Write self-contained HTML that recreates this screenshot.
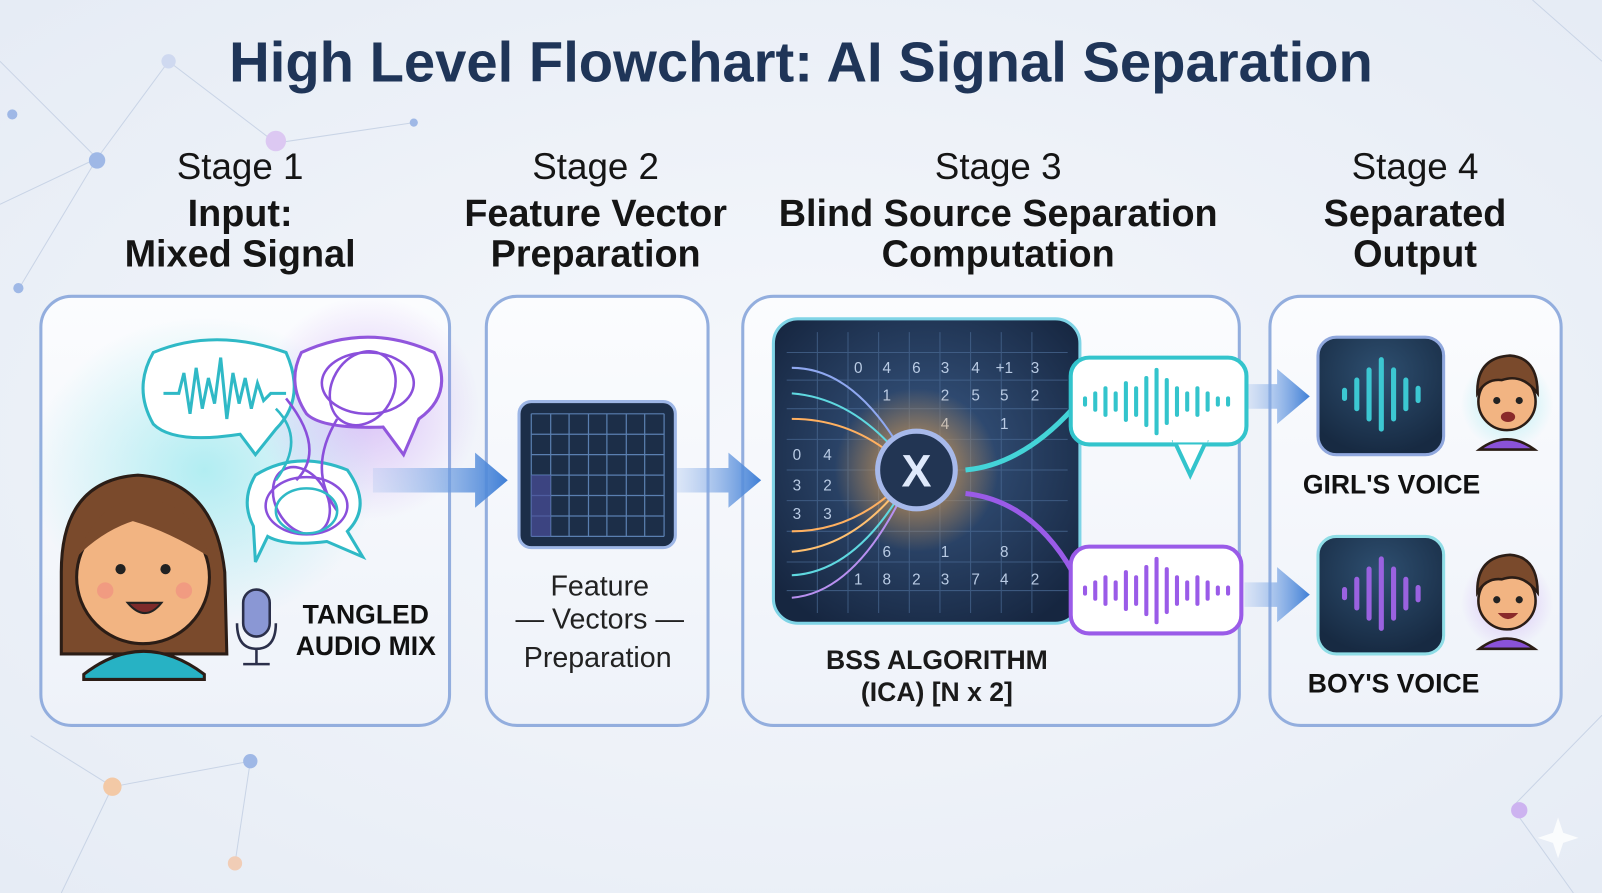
<!DOCTYPE html>
<html><head><meta charset="utf-8"><style>
html,body{margin:0;padding:0;width:1602px;height:893px;overflow:hidden;background:#eef2f8}
svg{display:block}
text{font-family:"Liberation Sans",sans-serif}
</style></head><body>
<svg width="1602" height="893" viewBox="0 0 1568 874" preserveAspectRatio="none">
<defs>
<radialGradient id="bg" cx="50%" cy="50%" r="70%"><stop offset="0" stop-color="#f6f8fc"/><stop offset="1" stop-color="#e6ecf5"/></radialGradient>
<linearGradient id="box" x1="0" y1="0" x2="0" y2="1"><stop offset="0" stop-color="#fbfcfe"/><stop offset="1" stop-color="#eef2f9"/></linearGradient>
<linearGradient id="arr" x1="0" y1="0" x2="1" y2="0"><stop offset="0" stop-color="#a9c3ee" stop-opacity="0.3"/><stop offset="1" stop-color="#3f7fd6"/></linearGradient>
<radialGradient id="dark" cx="50%" cy="45%" r="65%"><stop offset="0" stop-color="#3a5a86"/><stop offset="1" stop-color="#162640"/></radialGradient>
<radialGradient id="tile" cx="50%" cy="30%" r="70%"><stop offset="0" stop-color="#2e4f70"/><stop offset="1" stop-color="#172a42"/></radialGradient>
<radialGradient id="glow" cx="50%" cy="50%" r="50%"><stop offset="0" stop-color="#ffd58a"/><stop offset="0.3" stop-color="#f4a340" stop-opacity="0.6"/><stop offset="1" stop-color="#f4a340" stop-opacity="0"/></radialGradient>
<radialGradient id="tg" cx="50%" cy="50%" r="50%"><stop offset="0" stop-color="#5fe0e6" stop-opacity="0.45"/><stop offset="1" stop-color="#5fe0e6" stop-opacity="0"/></radialGradient>
<radialGradient id="pg" cx="50%" cy="50%" r="50%"><stop offset="0" stop-color="#b57ef0" stop-opacity="0.45"/><stop offset="1" stop-color="#b57ef0" stop-opacity="0"/></radialGradient>
</defs>
<rect width="1568" height="874" fill="url(#bg)"/>
<g stroke="#c9d4e6" stroke-width="1" fill="none">
<path d="M0 60 L95 155 L165 60 L270 140 L405 120 M95 155 L20 280 M0 200 L95 155 M30 720 L110 770 L245 745 L230 845 M110 770 L60 874 M1480 790 L1568 700 M1480 790 L1540 874 M1500 0 L1568 60"/>
</g>
<g fill="#9fb8e6"><circle cx="95" cy="157" r="8"/><circle cx="165" cy="60" r="7" fill="#cfd9f0"/><circle cx="270" cy="138" r="10" fill="#dcc8f2"/><circle cx="12" cy="112" r="5"/><circle cx="245" cy="745" r="7"/><circle cx="110" cy="770" r="9" fill="#f3c9a6"/><circle cx="230" cy="845" r="7" fill="#f1cdb6"/><circle cx="1487" cy="793" r="8" fill="#cdb3f0"/><circle cx="405" cy="120" r="4"/><circle cx="18" cy="282" r="5"/></g>

<text x="784" y="80" text-anchor="middle" font-size="55" font-weight="bold" fill="#1f3558">High Level Flowchart: AI Signal Separation</text>

<g font-size="36" fill="#151515" text-anchor="middle">
<text x="235" y="175">Stage 1</text><text x="583" y="175">Stage 2</text><text x="977" y="175">Stage 3</text><text x="1385" y="175">Stage 4</text>
<g font-weight="bold" font-size="37">
<text x="235" y="221">Input:</text><text x="235" y="261">Mixed Signal</text>
<text x="583" y="221">Feature Vector</text><text x="583" y="261">Preparation</text>
<text x="977" y="221">Blind Source Separation</text><text x="977" y="261">Computation</text>
<text x="1385" y="221">Separated</text><text x="1385" y="261">Output</text>
</g></g>

<g fill="url(#box)" stroke="#93aede" stroke-width="3">
<rect x="40" y="290" width="400" height="420" rx="30"/>
<rect x="476" y="290" width="217" height="420" rx="30"/>
<rect x="727" y="290" width="486" height="420" rx="30"/>
<rect x="1243" y="290" width="285" height="420" rx="30"/>
</g>

<ellipse cx="200" cy="460" rx="170" ry="150" fill="url(#tg)"/>
<ellipse cx="360" cy="400" rx="110" ry="110" fill="url(#pg)"/>
<path d="M150 345 Q210 320 280 345 Q300 390 270 420 L250 445 L235 425 Q170 435 150 415 Q130 380 150 345Z" fill="#fff" stroke="#2fb9c6" stroke-width="3"/>
<path d="M295 345 Q360 315 425 345 Q445 385 410 410 L395 445 L375 418 Q315 420 300 405 Q280 375 295 345Z" fill="#fff" stroke="#9156dd" stroke-width="3"/>
<path d="M250 465 Q290 440 340 460 Q365 495 340 520 L355 545 L320 530 Q280 535 262 525 L250 550 L248 515 Q235 490 250 465Z" fill="#fff" stroke="#2fb9c6" stroke-width="3"/>
<path d="M160 385 L175 385 L180 365 L186 405 L192 360 L198 400 L204 370 L210 395 L216 350 L222 410 L228 365 L234 395 L240 370 L246 400 L252 375 L258 392 L265 385 L280 385" fill="none" stroke="#2fb9c6" stroke-width="3"/>
<g fill="none" stroke="#8a4fdb" stroke-width="2.5"><ellipse cx="360" cy="375" rx="45" ry="30"/><ellipse cx="355" cy="380" rx="30" ry="38" transform="rotate(30 355 380)"/><ellipse cx="300" cy="495" rx="40" ry="28"/><ellipse cx="295" cy="490" rx="25" ry="35" transform="rotate(-30 295 490)"/><path d="M280 390 Q320 440 290 470 M330 410 Q300 460 330 500"/></g>
<g fill="none" stroke="#2fb9c6" stroke-width="2.5"><ellipse cx="300" cy="500" rx="30" ry="22"/><path d="M270 400 Q300 430 270 470"/></g>
<path d="M60 560 Q60 470 135 465 Q210 470 220 560 L222 640 L60 640Z" fill="#7a4a2c" stroke="#2b1d16" stroke-width="3"/>
<path d="M82 660 Q140 615 200 660 L200 665 L82 665Z" fill="#27b2c4" stroke="#2b1d16" stroke-width="3"/>
<ellipse cx="140" cy="565" rx="65" ry="65" fill="#f2b482" stroke="#2b1d16" stroke-width="3"/>
<path d="M75 545 Q100 480 150 490 Q190 495 205 545 Q165 520 130 510 Q100 520 75 545Z" fill="#7a4a2c"/>
<circle cx="118" cy="557" r="5" fill="#222"/><circle cx="162" cy="557" r="5" fill="#222"/>
<circle cx="103" cy="578" r="8" fill="#f08a80" opacity="0.6"/><circle cx="180" cy="578" r="8" fill="#f08a80" opacity="0.6"/>
<path d="M125 590 Q142 610 158 590Z" fill="#7d2a2a" stroke="#222" stroke-width="2"/>
<rect x="238" y="577" width="26" height="46" rx="13" fill="#8a97d4" stroke="#2b2f4a" stroke-width="2.5"/>
<path d="M232 610 Q232 635 251 635 Q270 635 270 610 M251 635 L251 650 M238 650 L264 650" fill="none" stroke="#2b2f4a" stroke-width="2.5"/>
<g font-size="26" font-weight="bold" fill="#111" text-anchor="middle"><text x="358" y="610">TANGLED</text><text x="358" y="641">AUDIO MIX</text></g>

<g fill="url(#arr)">
<path d="M365 458 L465 458 L465 443 L497 470 L465 497 L465 482 L365 482Z"/>
<path d="M660 458 L713 458 L713 443 L745 470 L713 497 L713 482 L660 482Z"/>
<path d="M1220 376 L1250 376 L1250 361 L1282 388 L1250 415 L1250 400 L1220 400Z"/>
<path d="M1218 570 L1250 570 L1250 555 L1282 582 L1250 609 L1250 594 L1218 594Z"/>
</g>

<rect x="508" y="393" width="153" height="143" rx="12" fill="#1c2e48" stroke="#9db6e6" stroke-width="3"/>
<g stroke="#5a7fb0" stroke-width="1.2">
<path d="M520 405 L650 405 M520 425 L650 425 M520 445 L650 445 M520 465 L650 465 M520 485 L650 485 M520 505 L650 505 M520 525 L650 525 M520 405 L520 525 M539 405 L539 525 M557 405 L557 525 M576 405 L576 525 M594 405 L594 525 M613 405 L613 525 M631 405 L631 525 M650 405 L650 525"/></g>
<rect x="520" y="465" width="19" height="60" fill="#4a4f9a" opacity="0.7"/>
<g font-size="28" fill="#222" text-anchor="middle"><text x="587" y="583">Feature</text><text x="587" y="615">— Vectors —</text><text x="585" y="653">Preparation</text></g>

<rect x="757" y="312" width="300" height="298" rx="24" fill="url(#dark)" stroke="#7fd4e6" stroke-width="3"/>
<g stroke="#4a6a94" stroke-width="1" opacity="0.7">
<path d="M770 345 L1045 345 M770 372 L1045 372 M770 400 L1045 400 M770 430 L1045 430 M770 460 L1045 460 M770 490 L1045 490 M770 520 L1045 520 M770 550 L1045 550 M770 578 L1045 578 M800 325 L800 600 M830 325 L830 600 M860 325 L860 600 M890 325 L890 600 M920 325 L920 600 M950 325 L950 600 M980 325 L980 600 M1010 325 L1010 600"/></g>
<g font-size="15" fill="#b9cbe4" text-anchor="middle">
<text x="840" y="365">0</text><text x="868" y="365">4</text><text x="897" y="365">6</text><text x="925" y="365">3</text><text x="955" y="365">4</text><text x="983" y="365">+1</text><text x="1013" y="365">3</text>
<text x="868" y="392">1</text><text x="925" y="392">2</text><text x="955" y="392">5</text><text x="983" y="392">5</text><text x="1013" y="392">2</text>
<text x="925" y="420">4</text><text x="983" y="420">1</text>
<text x="780" y="450">0</text><text x="810" y="450">4</text><text x="780" y="480">3</text><text x="810" y="480">2</text><text x="780" y="508">3</text><text x="810" y="508">3</text>
<text x="868" y="545">6</text><text x="925" y="545">1</text><text x="983" y="545">8</text>
<text x="840" y="572">1</text><text x="868" y="572">8</text><text x="897" y="572">2</text><text x="925" y="572">3</text><text x="955" y="572">7</text><text x="983" y="572">4</text><text x="1013" y="572">2</text>
</g>
<circle cx="897" cy="460" r="80" fill="url(#glow)"/>
<g fill="none" stroke-width="2">
<path d="M775 360 Q840 360 890 455" stroke="#8fa8f0"/><path d="M775 385 Q840 390 890 458" stroke="#5fd8e0"/><path d="M775 410 Q840 410 890 460" stroke="#ffb060"/>
<path d="M775 520 Q840 520 890 465" stroke="#ffb060"/><path d="M775 540 Q840 535 890 465" stroke="#ffc070"/><path d="M775 563 Q840 560 890 468" stroke="#5fd8e0"/><path d="M775 585 Q840 580 890 470" stroke="#b890f0"/>
</g>
<circle cx="897" cy="460" r="38" fill="#223553" stroke="#a7b9ea" stroke-width="5"/>
<text x="897" y="476" text-anchor="middle" font-size="44" font-weight="bold" fill="#dfe9fb">X</text>
<path d="M945 460 Q1000 455 1050 400" fill="none" stroke="#44d4d8" stroke-width="5"/>
<path d="M945 483 Q1010 490 1050 560" fill="none" stroke="#9a5be8" stroke-width="5"/>
<rect x="1048" y="350" width="172" height="85" rx="18" fill="#fff" stroke="#33c4cc" stroke-width="4"/>
<path d="M1150 433 L1165 465 L1180 433Z" fill="#fff" stroke="#33c4cc" stroke-width="4"/><rect x="1148" y="425" width="34" height="8" fill="#fff"/>
<rect x="1048" y="535" width="167" height="85" rx="18" fill="#fff" stroke="#9a5be8" stroke-width="4"/>
<g stroke="#33c4cc" stroke-width="4" stroke-linecap="round">
<path d="M1062 390v6M1072 385v16M1082 380v26M1092 385v16M1102 375v36M1112 380v26M1122 370v46M1132 362v62M1142 372v42M1152 380v26M1162 385v16M1172 380v26M1182 385v16M1192 390v6M1202 390v6"/></g>
<g stroke="#9a5be8" stroke-width="4" stroke-linecap="round">
<path d="M1062 575v6M1072 570v16M1082 565v26M1092 570v16M1102 560v36M1112 565v26M1122 555v46M1132 547v62M1142 557v42M1152 565v26M1162 570v16M1172 565v26M1182 570v16M1192 575v6M1202 575v6"/></g>
<g font-size="26" font-weight="bold" fill="#1a1a1a" text-anchor="middle"><text x="917" y="655">BSS ALGORITHM</text><text x="917" y="686">(ICA) [N x 2]</text></g>

<rect x="1290" y="330" width="123" height="115" rx="18" fill="url(#tile)" stroke="#8fa7dd" stroke-width="3"/>
<rect x="1290" y="525" width="123" height="115" rx="18" fill="url(#tile)" stroke="#8fdde6" stroke-width="3"/>
<g stroke="#3cc7d2" stroke-width="5" stroke-linecap="round"><path d="M1316 382v8M1328 372v28M1340 362v48M1352 352v68M1364 362v48M1376 372v28M1388 380v12"/></g>
<g stroke="#9a62e0" stroke-width="5" stroke-linecap="round"><path d="M1316 577v8M1328 567v28M1340 557v48M1352 547v68M1364 557v48M1376 567v28M1388 575v12"/></g>
<g font-size="26" font-weight="bold" fill="#111" text-anchor="middle"><text x="1362" y="483">GIRL'S VOICE</text><text x="1364" y="678">BOY'S VOICE</text></g>
<circle cx="1475" cy="395" r="45" fill="url(#tg)"/><circle cx="1475" cy="590" r="45" fill="url(#pg)"/>
<g stroke="#2b1d16" stroke-width="2.5">
<path d="M1448 440 Q1475 420 1502 440Z" fill="#8a52d8"/>
<circle cx="1475" cy="393" r="28" fill="#f2b482"/>
<path d="M1446 385 Q1445 350 1478 348 Q1505 350 1505 385 Q1490 365 1470 372 Q1455 370 1446 385Z" fill="#7a4a2c"/>
<path d="M1448 635 Q1475 615 1502 635Z" fill="#8a52d8"/>
<circle cx="1475" cy="588" r="28" fill="#f2b482"/>
<path d="M1446 580 Q1445 545 1478 543 Q1505 545 1505 580 Q1490 560 1470 567 Q1455 565 1446 580Z" fill="#7a4a2c"/>
</g>
<g fill="#222"><circle cx="1465" cy="392" r="3.5"/><circle cx="1487" cy="392" r="3.5"/><circle cx="1465" cy="587" r="3.5"/><circle cx="1487" cy="587" r="3.5"/></g>
<ellipse cx="1476" cy="408" rx="7" ry="5" fill="#8a2a2a"/><path d="M1466 600 Q1476 612 1486 600Z" fill="#8a2a2a"/>
<path d="M1525 800 L1530 815 L1545 820 L1530 825 L1525 840 L1520 825 L1505 820 L1520 815Z" fill="#fff" opacity="0.8"/>
</svg>
</body></html>
